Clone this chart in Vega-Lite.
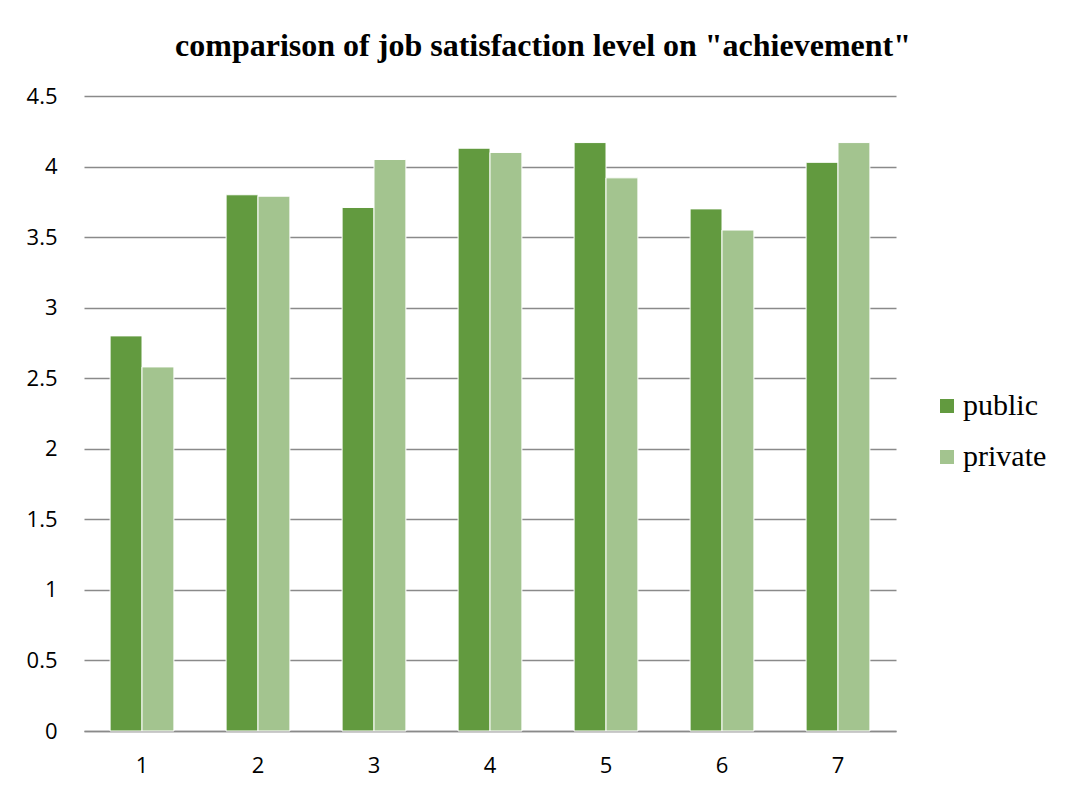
{
  "$schema": "https://vega.github.io/schema/vega-lite/v6.json",
  "autosize": {"type": "none"},
  "width": 812,
  "height": 635,
  "padding": {"left": 84, "top": 96, "right": 170, "bottom": 62},
  "background": "white",
  "title": {
    "text": "comparison of job satisfaction level on \"achievement\"",
    "font": "Liberation Serif",
    "fontSize": 32,
    "fontWeight": "bold",
    "color": "#000000",
    "anchor": "middle",
    "dx": 53,
    "offset": 22
  },
  "data": {
    "values": [
      {"item": "1", "sector": "public", "value": 2.8},
      {"item": "1", "sector": "private", "value": 2.58},
      {"item": "2", "sector": "public", "value": 3.8},
      {"item": "2", "sector": "private", "value": 3.79},
      {"item": "3", "sector": "public", "value": 3.71},
      {"item": "3", "sector": "private", "value": 4.05},
      {"item": "4", "sector": "public", "value": 4.13},
      {"item": "4", "sector": "private", "value": 4.1},
      {"item": "5", "sector": "public", "value": 4.17},
      {"item": "5", "sector": "private", "value": 3.92},
      {"item": "6", "sector": "public", "value": 3.7},
      {"item": "6", "sector": "private", "value": 3.55},
      {"item": "7", "sector": "public", "value": 4.03},
      {"item": "7", "sector": "private", "value": 4.17}
    ]
  },
  "mark": {"type": "bar", "stroke": "white", "strokeWidth": 1},
  "encoding": {
    "x": {
      "field": "item",
      "type": "nominal",
      "sort": null,
      "title": null,
      "scale": {"paddingInner": 0.45, "paddingOuter": 0.225},
      "axis": {
        "labelAngle": 0,
        "labelFont": "Open Sans",
        "labelFontSize": 22,
        "labelColor": "#000000",
        "labelPadding": 24,
        "ticks": false,
        "domainColor": "#8a8a8a",
        "domainWidth": 1.5,
        "grid": false
      }
    },
    "xOffset": {
      "field": "sector",
      "type": "nominal",
      "sort": ["public", "private"],
      "scale": {"paddingInner": 0, "paddingOuter": 0}
    },
    "y": {
      "field": "value",
      "type": "quantitative",
      "title": null,
      "scale": {"domain": [0, 4.5], "nice": false},
      "axis": {
        "values": [0, 0.5, 1, 1.5, 2, 2.5, 3, 3.5, 4, 4.5],
        "labelExpr": "datum.value",
        "labelFont": "Open Sans",
        "labelFontSize": 22,
        "labelColor": "#000000",
        "labelPadding": 27,
        "ticks": false,
        "domain": false,
        "grid": true,
        "gridColor": "#8a8a8a",
        "gridWidth": 1.5
      }
    },
    "color": {
      "field": "sector",
      "type": "nominal",
      "sort": ["public", "private"],
      "scale": {"domain": ["public", "private"], "range": ["#629A3F", "#A3C48F"]},
      "legend": {
        "title": null,
        "orient": "none",
        "legendX": 848,
        "legendY": 295,
        "symbolType": "square",
        "symbolSize": 196,
        "symbolStrokeWidth": 0,
        "labelFont": "Liberation Serif",
        "labelFontSize": 30,
        "labelColor": "#000000",
        "labelOffset": 1,
        "rowPadding": 21
      }
    }
  },
  "config": {
    "view": {"stroke": null},
    "axis": {"labelFontWeight": "normal"}
  }
}
